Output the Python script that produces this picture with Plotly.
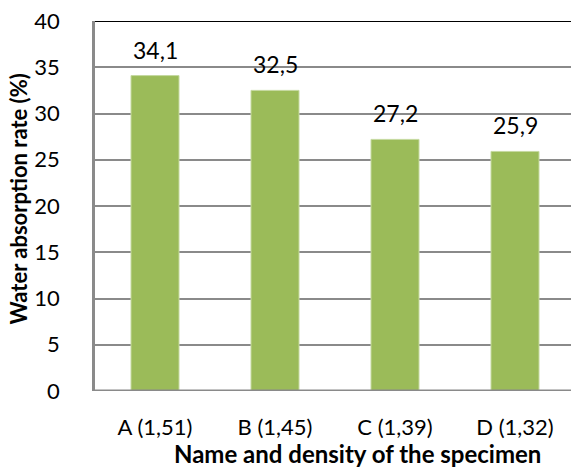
import plotly.graph_objects as go

# Specimens (name and density) and their measured water absorption rates
categories = ["A (1,51)", "B (1,45)", "C (1,39)", "D (1,32)"]
absorption = [34.1, 32.5, 27.2, 25.9]
y_ticks = [0, 5, 10, 15, 20, 25, 30, 35, 40]

FONT = "Lato"
BAR_COLOR = "#9BBB59"
GRID = "#8A8A8A"

labels = [f"{v:.1f}".replace(".", ",") for v in absorption]

fig = go.Figure(
    go.Bar(
        x=categories,
        y=absorption,
        width=0.4,
        marker=dict(color=BAR_COLOR, line=dict(color="#C5D9A0", width=1)),
        hoverinfo="x+y",
    )
)

# Value labels above each bar
for cat, val, lab in zip(categories, absorption, labels):
    fig.add_annotation(
        x=cat, y=val, text=lab,
        xanchor="center", yanchor="bottom", yshift=10,
        showarrow=False,
        font=dict(family=FONT, size=23, color="#000000"),
    )

fig.update_layout(
    width=571,
    height=468,
    margin=dict(l=95, r=0, t=21, b=77),
    paper_bgcolor="white",
    plot_bgcolor="white",
    showlegend=False,
    bargap=0.6,
    xaxis=dict(
        range=[-0.5, 3.4667],
        showgrid=False,
        showline=False,
        zeroline=False,
        ticks="",
        tickfont=dict(family=FONT, size=22, color="#000000"),
        ticklabelstandoff=21,
    ),
    yaxis=dict(
        range=[0, 40],
        tickvals=y_ticks,
        showgrid=True,
        gridcolor=GRID,
        gridwidth=1.5,
        zeroline=False,
        showline=True,
        linecolor=GRID,
        linewidth=2.5,
        ticks="",
        tickfont=dict(family=FONT, size=22, color="#000000"),
        ticklabelstandoff=28,
    ),
)

# Axis baseline at zero and the dark frame line at the top of the scale
fig.add_shape(type="line", xref="paper", yref="y", x0=0, x1=1, y0=0, y1=0,
              line=dict(color=GRID, width=3), layer="above")
fig.add_shape(type="line", xref="paper", yref="y", x0=0, x1=1, y0=40, y1=40,
              line=dict(color="#000000", width=2), layer="above")

# Axis titles
fig.add_annotation(
    text="<b>Water absorption rate (%)</b>",
    xref="paper", yref="paper",
    x=-0.160, y=0.52,
    xanchor="center", yanchor="middle",
    textangle=-90,
    showarrow=False,
    font=dict(family=FONT, size=22, color="#000000"),
)
fig.add_annotation(
    text="<b>Name and density of the specimen</b>",
    xref="paper", yref="paper",
    x=0.552, y=-0.17,
    xanchor="center", yanchor="middle",
    showarrow=False,
    font=dict(family=FONT, size=24, color="#000000"),
)

fig.write_html("out.html")
